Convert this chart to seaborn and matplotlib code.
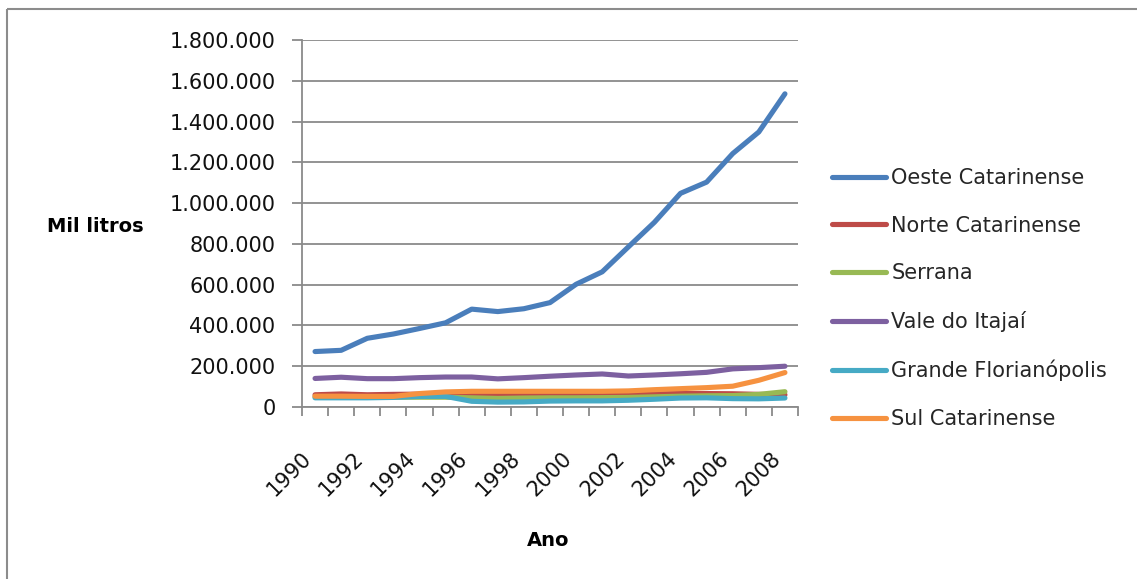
import matplotlib
matplotlib.use("Agg")
import matplotlib.pyplot as plt
from matplotlib.lines import Line2D
from matplotlib.ticker import FuncFormatter, FixedLocator
import numpy as np
import pandas as pd
import seaborn as sns

# Produção anual por mesorregião (mil litros)
anos = list(range(1990, 2009))
oeste = [272000, 278000, 337000, 358000, 385000, 413000, 480000, 468000, 482000, 512000,
         602000, 663000, 785000, 906000, 1048000, 1103000, 1243000, 1349000, 1536000]
norte = [60000, 64000, 60000, 62000, 63000, 63000, 62000, 62000, 62000, 62000,
         62000, 63000, 64000, 65000, 66000, 66000, 65000, 62000, 60000]
serrana = [50000, 48000, 48000, 48000, 48000, 48000, 45000, 42000, 44000, 45000,
           45000, 46000, 47000, 50000, 53000, 55000, 56000, 62000, 75000]
vale = [140000, 146000, 139000, 139000, 144000, 147000, 147000, 138000, 144000, 151000,
        157000, 162000, 152000, 157000, 163000, 170000, 187000, 193000, 200000]
grande = [45000, 45000, 45000, 47000, 52000, 52000, 28000, 24000, 25000, 29000,
          30000, 30000, 33000, 38000, 44000, 45000, 41000, 40000, 44000]
sul = [53000, 53000, 52000, 52000, 66000, 74000, 77000, 77000, 77000, 77000,
       77000, 77000, 79000, 85000, 90000, 95000, 102000, 131000, 169000]

regioes = ["Oeste Catarinense", "Norte Catarinense", "Serrana", "Vale do Itajaí",
           "Grande Florianópolis", "Sul Catarinense"]
series = [oeste, norte, serrana, vale, grande, sul]
cores = ["#4A7EBB", "#BE4B48", "#98B954", "#7D60A0", "#46AAC5", "#F69240"]
rotulos_x = [str(a) for a in anos[::2]]

df = pd.DataFrame({
    "Ano": np.tile(anos, len(regioes)),
    "Producao": np.concatenate(series),
    "Regiao": np.repeat(regioes, len(anos)),
})

sns.set_style("white")
plt.rcParams["font.family"] = ["DejaVu Sans"]

W, H = 1137, 579
fig = plt.figure(figsize=(W / 100, H / 100), dpi=100)
fig.patch.set_facecolor("white")
ax = fig.add_axes([302 / W, 1 - 407 / H, (798 - 302) / W, (407 - 40) / H])

lw = 3.7
sns.lineplot(data=df, x="Ano", y="Producao", hue="Regiao", hue_order=regioes,
             palette=cores, linewidth=lw, sort=False, legend=False, ax=ax,
             solid_capstyle="round", solid_joinstyle="round")

grid_c = "#8A8A8A"
ax.set_xlim(anos[0] - 0.5, anos[-1] + 0.5)
ax.set_ylim(0, 1800000)
ax.set_yticks(np.arange(0, 1800001, 200000))
ax.yaxis.set_major_formatter(FuncFormatter(lambda v, p: f"{int(v):,}".replace(",", ".")))
ax.yaxis.grid(True, color=grid_c, linewidth=1.3)
ax.set_axisbelow(True)

ax.set_xticks(anos[::2])
ax.set_xticklabels(rotulos_x, rotation=45, ha="right", va="top")
ax.xaxis.set_minor_locator(FixedLocator(np.arange(anos[0] - 0.5, anos[-1] + 0.6, 1)))

for s in ["top", "right"]:
    ax.spines[s].set_visible(False)
for s in ["left", "bottom"]:
    ax.spines[s].set_color(grid_c)
    ax.spines[s].set_linewidth(1.3)

ax.tick_params(axis="y", which="major", left=True, length=7, width=1.3, color=grid_c,
               pad=12, labelsize=15, labelcolor="#111111")
ax.tick_params(axis="x", which="major", bottom=True, length=0, pad=29.5,
               labelsize=15, labelcolor="#111111")
ax.tick_params(axis="x", which="minor", bottom=True, length=6.5, width=1.3, color=grid_c)

ax.set_xlabel("")
ax.set_ylabel("")
fig.text(95 / W, 1 - 226 / H, "Mil litros", ha="center", va="center",
         fontsize=14, fontweight="bold", color="#000000")
fig.text(548 / W, 1 - 540 / H, "Ano", ha="center", va="center",
         fontsize=14, fontweight="bold", color="#000000")

handles = [Line2D([0], [0], color=c, linewidth=lw, solid_capstyle="round") for c in cores]
fig.legend(handles, regioes, loc="upper left", bbox_to_anchor=(832 / W, 1 - 168 / H),
           frameon=False, fontsize=15, handlelength=2.6, handletextpad=0.25,
           labelspacing=1.33, borderaxespad=0, borderpad=0)

# moldura externa
fig.add_artist(Line2D([7 / W, 7 / W], [0, 1 - 9 / H], color="#8C8C8C", linewidth=1.5,
                      transform=fig.transFigure, solid_capstyle="butt"))
fig.add_artist(Line2D([7 / W, 1], [1 - 9 / H, 1 - 9 / H], color="#8C8C8C", linewidth=1.5,
                      transform=fig.transFigure, solid_capstyle="butt"))

fig.savefig("out.png", dpi=100, facecolor="white")
